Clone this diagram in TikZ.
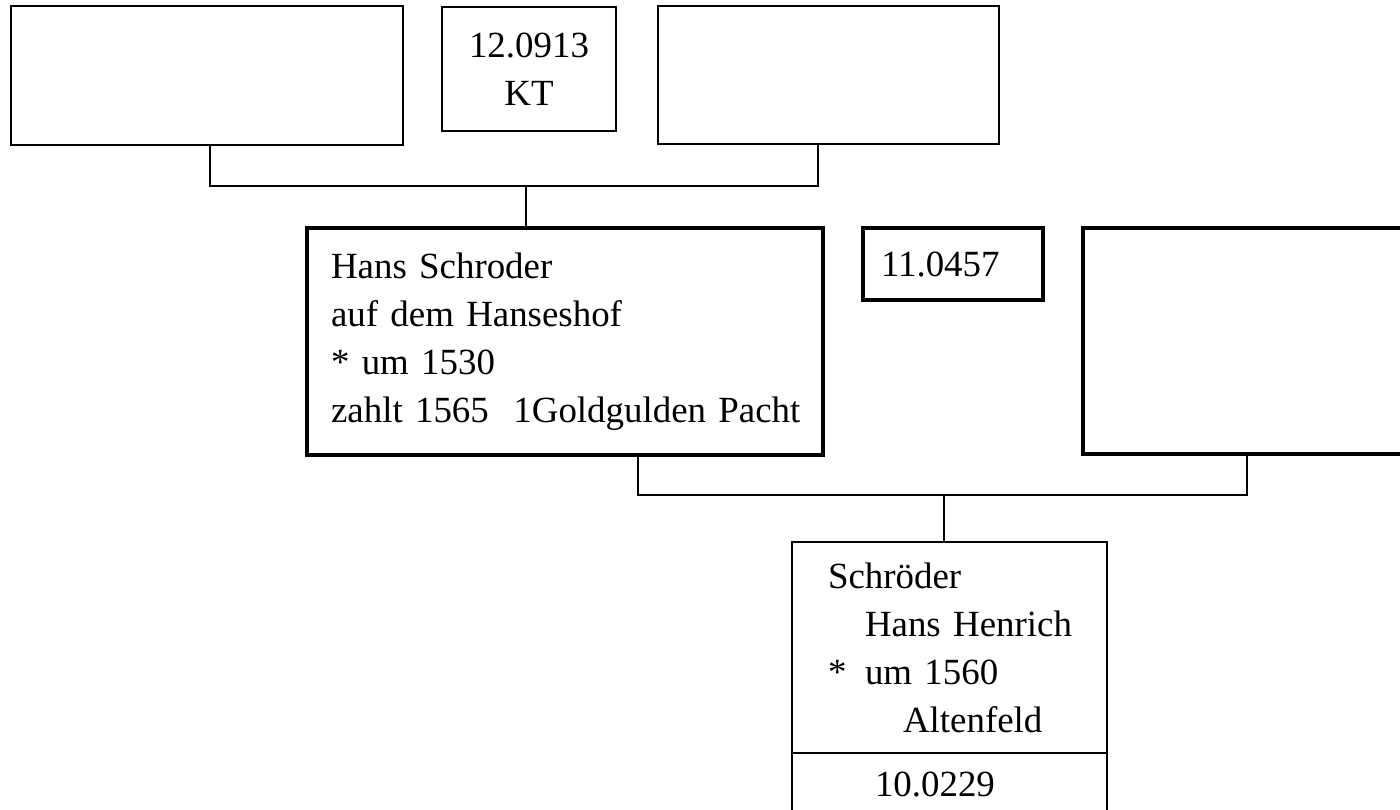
\documentclass[tikz,border=0pt]{standalone}
\usepackage{fontspec}
\setmainfont{Liberation Serif}
\usetikzlibrary{calc}

\begin{document}
\begin{tikzpicture}[x=0.02cm, y=-0.02cm,
        thinbox/.style={draw, line width=1.1pt, inner sep=0pt, outer sep=0pt},
        thickbox/.style={draw, line width=2.4pt, inner sep=0pt, outer sep=0pt},
        link/.style={line width=1pt},
        every node/.style={font=\fontsize{21}{27.3}\selectfont}]
        \useasboundingbox (0,0) rectangle (1400,810);
        \clip (0,0) rectangle (1400,810);

        % Draw the parents of Hans Schroder
        \node[thinbox, minimum width=7.84cm, minimum height=2.78cm] (father1) at (207,75.5) {};
        \node[thinbox, minimum width=3.48cm, minimum height=2.48cm, align=center] (num1) at (529,69) {12.0913\\KT};
        \node[thinbox, minimum width=6.82cm, minimum height=2.76cm] (mother1) at (828.5,75) {};

        % Draw Hans Schroder and his wife
        \node[thickbox, minimum width=10.32cm, minimum height=4.54cm, text width=9.36cm, align=left] (hans) at (565,341.5)
            {\mbox{Hans Schroder}\\\mbox{auf dem Hanseshof}\\\mbox{* um 1530}\\\mbox{zahlt 1565\ \ 1Goldgulden Pacht}};
        \node[thickbox, minimum width=3.6cm, minimum height=1.44cm, text width=2.88cm, align=left] (num2) at (953,264) {11.0457};
        \node[thickbox, minimum width=7.34cm, minimum height=4.52cm] (wife) at (1266.5,341) {};

        % Draw the child
        \node[thinbox, minimum width=6.3cm, minimum height=4.22cm, text width=4.86cm, align=left] (henrich) at (949.5,647.5)
            {\mbox{Schröder}\\\mbox{\hspace*{0.74cm}Hans Henrich}\\\mbox{\makebox[0.74cm][l]{*}um 1560}\\\mbox{\hspace*{1.5cm}Altenfeld}};
        \node[thinbox, anchor=north, text width=6.3cm, align=left, text height=0.88cm, text depth=1.06cm] (num3) at (henrich.south)
            {\hspace*{1.66cm}10.0229};

        % Draw the lines between generations
        \coordinate (bar1) at (0,186);
        \coordinate (bar2) at (0,495);
        \coordinate (father1-down) at ($(father1.south west)!0.508!(father1.south east)$);
        \coordinate (mother1-down) at ($(mother1.south west)!0.469!(mother1.south east)$);
        \coordinate (hans-up) at ($(hans.north west)!0.424!(hans.north east)$);
        \coordinate (hans-down) at ($(hans.south west)!0.641!(hans.south east)$);
        \coordinate (wife-down) at ($(wife.south west)!0.447!(wife.south east)$);
        \coordinate (henrich-up) at ($(henrich.north west)!0.483!(henrich.north east)$);

        \draw[link] (father1-down) -- (father1-down |- bar1) -- (mother1-down |- bar1) -- (mother1-down);
        \draw[link] (hans-up |- bar1) -- (hans-up);
        \draw[link] (hans-down) -- (hans-down |- bar2) -- (wife-down |- bar2) -- (wife-down);
        \draw[link] (henrich-up |- bar2) -- (henrich-up);
    \end{tikzpicture}
\end{document}
